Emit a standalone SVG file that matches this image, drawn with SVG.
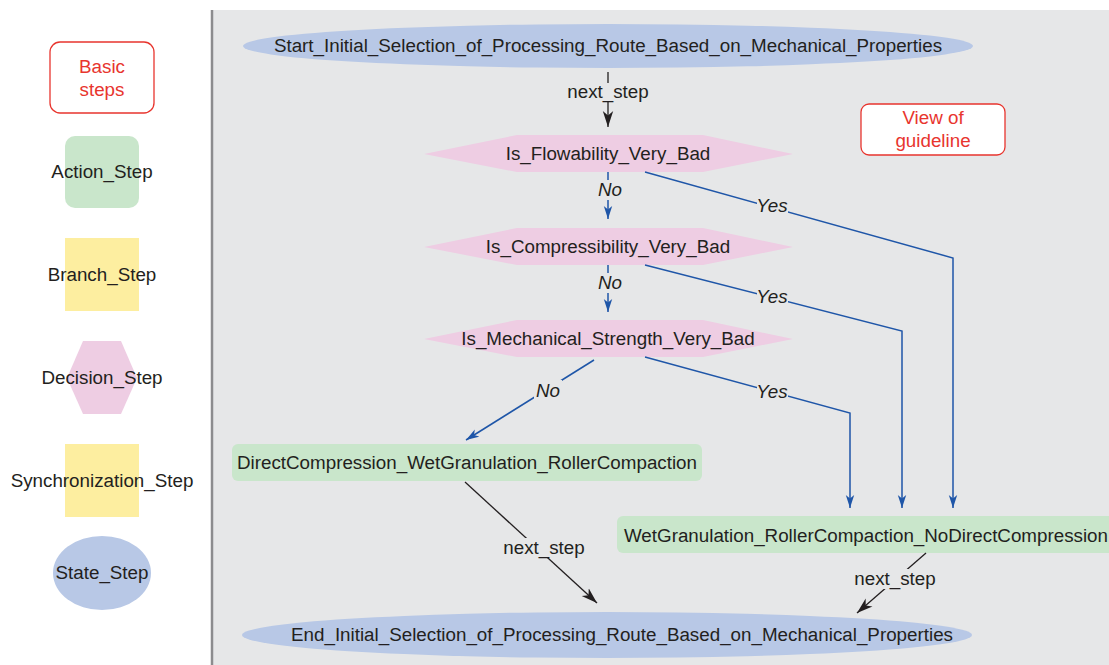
<svg xmlns="http://www.w3.org/2000/svg" width="1109" height="665" viewBox="0 0 1109 665">
<style>
text{font-family:"Liberation Sans",Arial,Helvetica,sans-serif;font-size:18.8px;fill:#231f20;text-anchor:middle}
.red{fill:#e8352e}
.it{font-style:italic}
.act{fill:#c9e6cb}
.br{fill:#fdeea0}
.dec{fill:#eecde3}
.st{fill:#b8c8e6}
.guide{fill:#ffffff;stroke:#e8352e;stroke-width:1.3}
.blue{stroke:#1f56a8;stroke-width:1.5;fill:none}
.blk{stroke:#231f20;stroke-width:1.3;fill:none}
.lbg{fill:#e6e7e8}
</style>
<defs>
<marker id="ab" markerUnits="userSpaceOnUse" markerWidth="14" markerHeight="10" refX="13" refY="5" orient="auto"><path d="M0,0.8 L13,5 L0,9.2 L3.5,5 Z" fill="#1f56a8"/></marker>
<marker id="ak" markerUnits="userSpaceOnUse" markerWidth="17" markerHeight="12" refX="16" refY="6" orient="auto"><path d="M0,0.8 L16,6 L0,11.2 L4.5,6 Z" fill="#231f20"/></marker>
</defs>
<rect x="0" y="0" width="1109" height="665" fill="#ffffff"/>
<rect x="213" y="10" width="896" height="655" fill="#e6e7e8"/>
<line x1="212" y1="10" x2="212" y2="665" stroke="#8c8c8e" stroke-width="2.5"/>

<g id="legend">
<g id="legend-basic"><rect class="guide" x="50" y="42" width="104" height="71" rx="10"/><text class="red" x="102" y="73">Basic</text><text class="red" x="102" y="96">steps</text></g>
<g id="legend-action"><rect class="act" x="65" y="136" width="74" height="72" rx="10"/><text x="102" y="178">Action_Step</text></g>
<g id="legend-branch"><rect class="br" x="65" y="238" width="74" height="73"/><text x="102" y="281">Branch_Step</text></g>
<g id="legend-decision"><polygon class="dec" points="83,341 121,341 137,378 121,414 83,414 67,378"/><text x="102" y="384">Decision_Step</text></g>
<g id="legend-sync"><rect class="br" x="65" y="444" width="74" height="73"/><text x="102" y="487">Synchronization_Step</text></g>
<g id="legend-state"><ellipse class="st" cx="102" cy="573" rx="49" ry="37"/><text x="102" y="579">State_Step</text></g>
</g>

<g id="guideline"><rect class="guide" x="861" y="104" width="144" height="51" rx="8"/><text class="red" x="933" y="124">View of</text><text class="red" x="933" y="147">guideline</text></g>

<g id="start"><ellipse class="st" cx="608" cy="46" rx="365" ry="22"/><text x="608" y="52">Start_Initial_Selection_of_Processing_Route_Based_on_Mechanical_Properties</text></g>
<g id="d1"><polygon class="dec" points="424,154 517,135 703,135 793,154 703,172 517,172"/><text x="608" y="160">Is_Flowability_Very_Bad</text></g>
<g id="d2"><polygon class="dec" points="424,247 517,228 703,228 793,247 703,265 517,265"/><text x="608" y="253">Is_Compressibility_Very_Bad</text></g>
<g id="d3"><polygon class="dec" points="424,339 517,320 703,320 793,339 703,357 517,357"/><text x="608" y="345">Is_Mechanical_Strength_Very_Bad</text></g>
<g id="a1"><rect class="act" x="232" y="444" width="470" height="37" rx="6"/><text x="467" y="469">DirectCompression_WetGranulation_RollerCompaction</text></g>
<g id="a2"><rect class="act" x="617" y="516" width="500" height="37" rx="6"/><text x="866" y="542">WetGranulation_RollerCompaction_NoDirectCompression</text></g>
<g id="end"><ellipse class="st" cx="607" cy="635" rx="365" ry="23"/><text x="622" y="641">End_Initial_Selection_of_Processing_Route_Based_on_Mechanical_Properties</text></g>

<g id="connectors">
<path class="blk" d="M608,72 L608,127" marker-end="url(#ak)"/>
<rect class="lbg" x="566" y="83" width="84" height="19"/>
<text x="608" y="97.5">next_step</text>

<path class="blue" d="M608,172 L608,219" marker-end="url(#ab)"/>
<rect class="lbg" x="596" y="180" width="28" height="20"/>
<text class="it" x="610" y="196">No</text>

<path class="blue" d="M608,265 L608,312" marker-end="url(#ab)"/>
<rect class="lbg" x="596" y="273" width="28" height="20"/>
<text class="it" x="610" y="289">No</text>

<path class="blue" d="M594,360 L466,440" marker-end="url(#ab)"/>
<rect class="lbg" x="534" y="380" width="28" height="20"/>
<text class="it" x="548" y="397">No</text>

<path class="blue" d="M645,172 L953,258 L953,508" marker-end="url(#ab)"/>
<rect class="lbg" x="757" y="196" width="31" height="20"/>
<text class="it" x="772" y="212">Yes</text>

<path class="blue" d="M645,265 L902,331 L902,508" marker-end="url(#ab)"/>
<rect class="lbg" x="757" y="287" width="31" height="20"/>
<text class="it" x="772" y="303">Yes</text>

<path class="blue" d="M645,357 L850,413 L850,508" marker-end="url(#ab)"/>
<rect class="lbg" x="757" y="381" width="31" height="20"/>
<text class="it" x="772" y="398">Yes</text>

<path class="blk" d="M465,482 L597,603" marker-end="url(#ak)"/>
<rect class="lbg" x="502" y="538" width="84" height="20"/>
<text x="544" y="554">next_step</text>

<path class="blk" d="M926,553 L857,613" marker-end="url(#ak)"/>
<rect class="lbg" x="853" y="569" width="84" height="20"/>
<text x="895" y="585">next_step</text>
</g>
</svg>
